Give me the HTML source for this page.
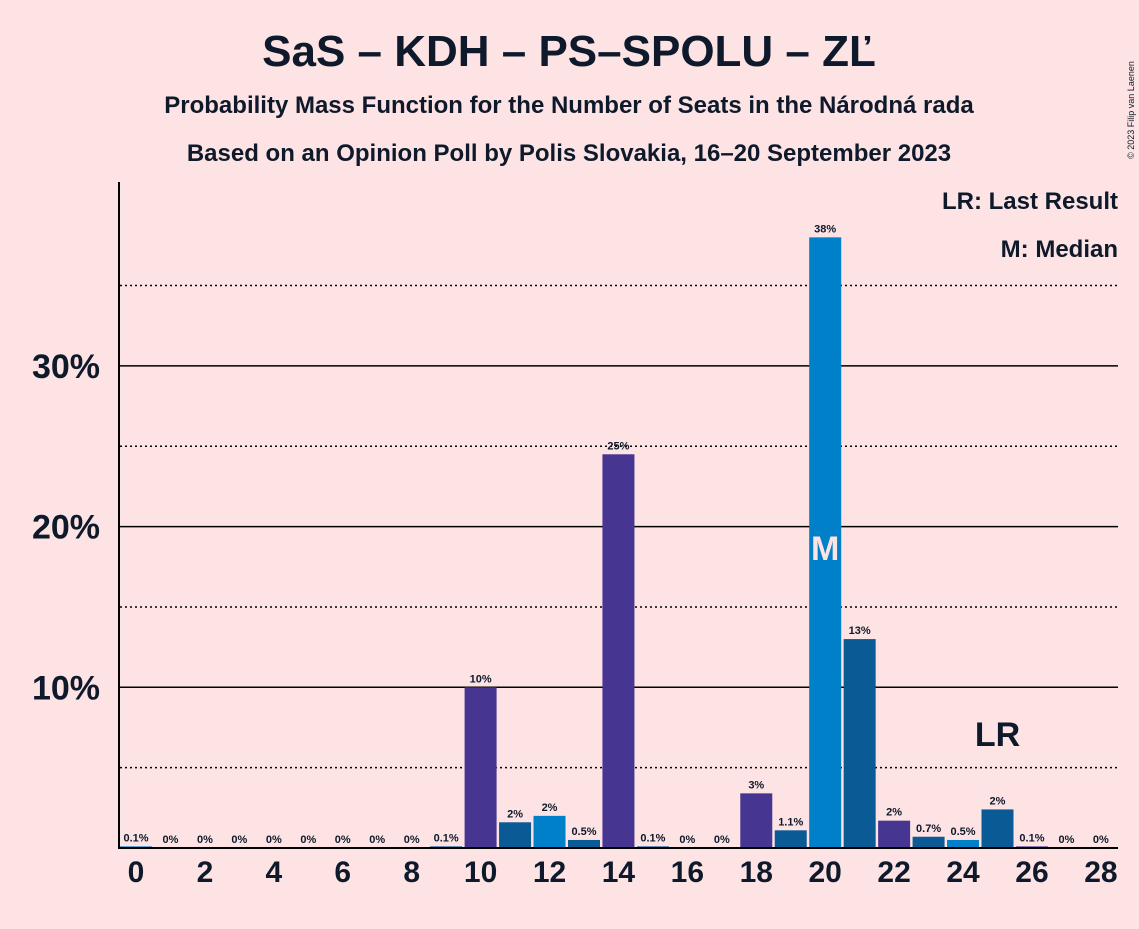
<!DOCTYPE html>
<html><head><meta charset="utf-8"><style>
body{margin:0;background:#fde3e3;font-family:"Liberation Sans",sans-serif}
svg text{font-family:"Liberation Sans",sans-serif;font-weight:bold;fill:#0e1a2b}
</style></head><body>
<svg id="c" width="1139" height="924" xmlns="http://www.w3.org/2000/svg">
<rect width="1139" height="924" fill="#fde3e3"/>
<text x="569" y="66" font-size="44" text-anchor="middle">SaS – KDH – PS–SPOLU – ZĽ</text>
<text x="569" y="113" font-size="24" text-anchor="middle">Probability Mass Function for the Number of Seats in the Národná rada</text>
<text x="569" y="161" font-size="24" text-anchor="middle">Based on an Opinion Poll by Polis Slovakia, 16–20 September 2023</text>
<text x="1134" y="110" font-size="9" transform="rotate(-90 1134 110)" text-anchor="middle" style="font-weight:normal">© 2023 Filip van Laenen</text>
<text x="1118" y="209" font-size="24" text-anchor="end">LR: Last Result</text>
<text x="1118" y="257" font-size="24" text-anchor="end">M: Median</text>
<g id="grid"></g><g id="bars"></g><g id="axes"></g>
</svg>
<script>
const seats=[0,1,2,3,4,5,6,7,8,9,10,11,12,13,14,15,16,17,18,19,20,21,22,23,24,25,26,27,28];
const probs=[0.1,0,0,0,0,0,0,0,0,0.1,10,1.6,2,0.5,24.5,0.1,0,0,3.4,1.1,38,13,1.7,0.7,0.5,2.4,0.1,0,0];
const labels=["0.1%","0%","0%","0%","0%","0%","0%","0%","0%","0.1%","10%","2%","2%","0.5%","25%","0.1%","0%","0%","3%","1.1%","38%","13%","2%","0.7%","0.5%","2%","0.1%","0%","0%"];
const yTicks=[10,20,30];
const yTickLabels=["10%","20%","30%"];
const dotted=[5,15,25,35];
const median=20, lastResult=25;
const NS="http://www.w3.org/2000/svg";
const X=s=>136+s*34.46, Y=v=>848-v*16.07;
const colors=["#0080c8","#0a5a96","#463591","#0a5a96"];
function mk(t,a,p){const e=document.createElementNS(NS,t);for(const k in a)e.setAttribute(k,a[k]);p.appendChild(e);return e;}
const g=document.getElementById('grid'),b=document.getElementById('bars'),ax=document.getElementById('axes');
dotted.forEach(v=>{const l=mk('line',{x1:120,x2:1118,y1:Y(v),y2:Y(v),stroke:'#000','stroke-width':1.5,'stroke-dasharray':'2,3'},g);

});
yTicks.forEach((v,i)=>{const l=mk('line',{x1:120,x2:1118,y1:Y(v),y2:Y(v),stroke:'#000','stroke-width':1.5},g);


const t=mk('text',{x:100,y:Y(v)+12,'font-size':34,'text-anchor':'end'},ax);t.textContent=yTickLabels[i];

});
seats.forEach((s,i)=>{const v=probs[i];
if(v>0){const r=mk('rect',{x:X(s)-16,y:Y(v),width:32,height:848-Y(v),fill:colors[s%4]},b);

}
const t=mk('text',{x:X(s),y:Y(v)-5,'font-size':11,'text-anchor':'middle'},b);t.textContent=labels[i];


if(s%2===0){const xt=mk('text',{x:X(s),y:882,'font-size':30,'text-anchor':'middle'},ax);xt.textContent=s;

}
});
const m=mk('text',{x:X(median),y:560,'font-size':34,'text-anchor':'middle',style:'fill:#fde3e3'},b);m.textContent='M';


const lr=mk('text',{x:X(lastResult),y:746,'font-size':34,'text-anchor':'middle'},b);lr.textContent='LR';


const ya=mk('line',{x1:119,x2:119,y1:182,y2:849,stroke:'#000','stroke-width':2},ax);


const xa=mk('line',{x1:118,x2:1118,y1:848,y2:848,stroke:'#000','stroke-width':2},ax);


</script>
</body></html>
